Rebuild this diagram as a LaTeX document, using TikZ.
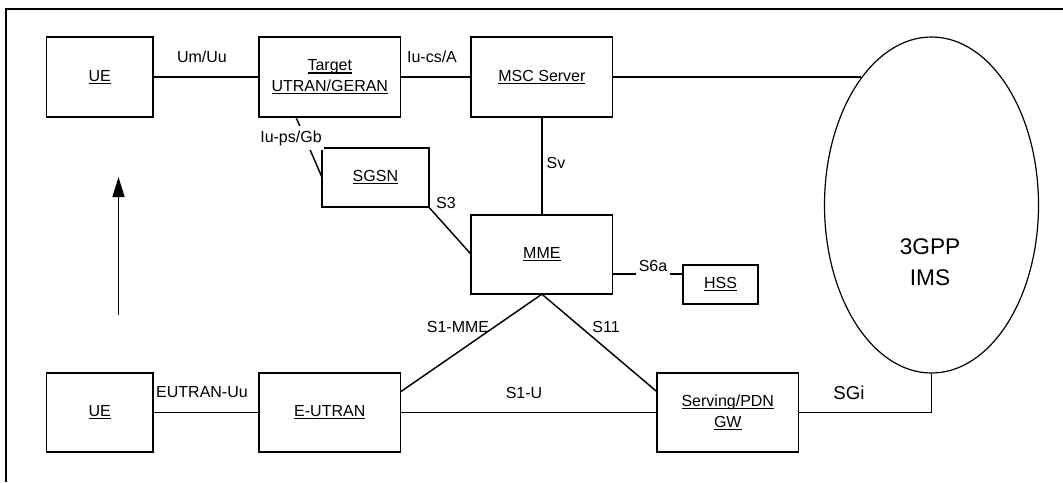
\documentclass[tikz,border=0pt]{standalone}
\usepackage{fontspec}
\setmainfont{Liberation Sans}
\newcommand{\myul}[1]{\leavevmode\setbox0=\hbox{#1}\rlap{\vrule width\wd0 height -1.0pt depth 2.0pt}\box0}
\usetikzlibrary{shapes.geometric,arrows.meta,calc}
\begin{document}
\begin{tikzpicture}[x=0.75pt,y=-0.75pt,
  font=\fontsize{12pt}{15.5pt}\selectfont,
  box/.style={draw,line width=1.3pt,inner sep=0pt,outer sep=0pt,align=center},
  wide/.style={box,minimum width=106pt,minimum height=59.5pt},
  narrow/.style={box,minimum width=80pt,minimum height=59.5pt},
  link/.style={line width=1.1pt},
  lbl/.style={inner sep=1pt},
  lblw/.style={fill=white,inner xsep=2pt,inner ysep=3.5pt}]
\useasboundingbox (0,0) rectangle (1063,482);
\draw[line width=0.9pt] (6,482) -- (6,9) -- (1063,9);
% boxes
\node[narrow,minimum height=60pt] (ue1) at (99.8,77) {\myul{UE}};
\node[wide,minimum height=60pt] (target) at (329.8,77) {\myul{Target}\\\myul{UTRAN/GERAN}};
\node[wide,minimum height=60pt] (msc) at (541.9,77) {\myul{MSC Server}};
\node[box,minimum width=80pt,minimum height=44.25pt] (sgsn) at (375.4,177.5) {\myul{SGSN}};
\node[wide] (mme) at (541.9,254.5) {\myul{MME}};
\node[box,minimum width=56.25pt,minimum height=29.25pt] (hss) at (720.5,284.5) {\myul{HSS}};
\node[narrow] (ue2) at (99.8,412.5) {\myul{UE}};
\node[wide] (eutran) at (329.8,412.5) {\myul{E-UTRAN}};
\node[wide] (gw) at (727.8,412.5) {\myul{Serving/PDN}\\\myul{GW}};
\node[draw,ellipse,line width=0.9pt,minimum width=160.5pt,minimum height=252pt,inner sep=0pt] (ims) at (931.5,205) {};
\node[font=\fontsize{17pt}{23.5pt}\selectfont,align=center] (imstext) at (930,262) {3GPP\\IMS};
% helper coordinates
\coordinate (tgtbot) at ($(target.south west)!0.26!(target.south east)$);
\coordinate (hssin) at ($(hss.north west)!0.23!(hss.south west)$);
\coordinate (eutin) at ($(eutran.north east)!0.24!(eutran.south east)$);
\coordinate (gwin) at ($(gw.north west)!0.24!(gw.south west)$);
\coordinate (arrfoot) at (118.5,315);
\coordinate (arrtip) at (118.5,177);
% connectors
\draw[link] (ue1.east) -- (target.west);
\draw[link] (target.east) -- (msc.west);
\draw[link] (msc.east) -- (msc.east -| ims.119);
\draw[link] (msc.south) -- (mme.north);
\draw[link] (tgtbot) -- (sgsn.west);
\draw[link] (sgsn.south east) -- (mme.west);
\draw[link] (mme.east |- hssin) -- (hssin);
\draw[link] (mme.south) -- (eutin);
\draw[link] (mme.south) -- (gwin);
\draw[link] (ue2.east) -- (eutran.west);
\draw[link] (eutran.east) -- (gw.west);
\draw[link] (gw.east) -| (ims.south);
\draw[link,-{Triangle[length=15pt,width=9pt]}] (arrfoot) -- (arrtip);
% labels
\node[lbl] (lumuu) at (202,57) {Um/Uu};
\node[lbl] (lIucs) at (432,57) {Iu-cs/A};
\node[lblw] (lIups) at (291,138) {Iu-ps/Gb};
\node[lbl] (lsv) at (556,163) {Sv};
\node[lbl] (ls3) at (446,203) {S3};
\node[lblw] (ls6a) at (653,266) {S6a};
\node[lbl] (ls1mme) at (458,327) {S1-MME};
\node[lbl] (ls11) at (606,327) {S11};
\node[lbl] (ls1u) at (524,393) {S1-U};
\node[lbl] (leutuu) at (202,392) {EUTRAN-Uu};
\node[font=\fontsize{14pt}{18pt}\selectfont,inner sep=1pt] (lsgi) at (849,393) {SGi};
\end{tikzpicture}
\end{document}
